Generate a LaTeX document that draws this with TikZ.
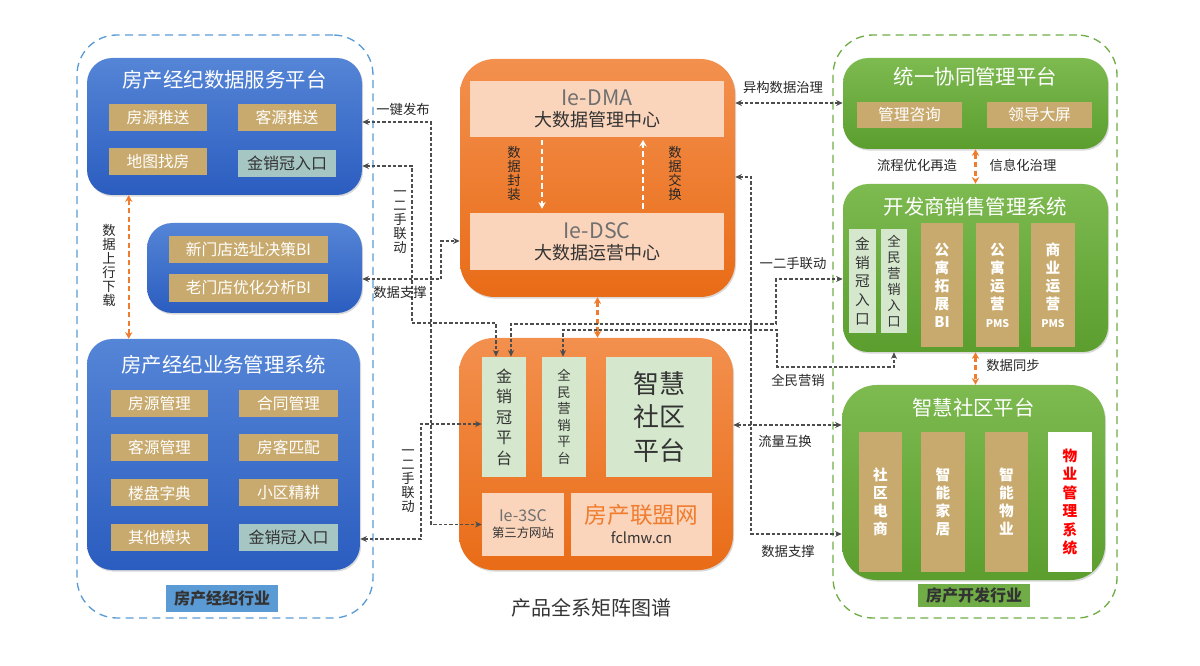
\documentclass[tikz,border=0pt]{standalone}
\usepackage{fontspec}
\setmainfont{Noto Sans CJK SC}
\usetikzlibrary{arrows.meta,shadows}

\definecolor{bluetop}{HTML}{5585D6}
\definecolor{bluebot}{HTML}{2B5DC0}
\definecolor{orangetop}{HTML}{F3904E}
\definecolor{orangebot}{HTML}{E96C17}
\definecolor{greentop}{HTML}{7DBA50}
\definecolor{greenbot}{HTML}{5B9E2E}
\definecolor{tanbox}{HTML}{C9AA6E}
\definecolor{tealbox}{HTML}{A6C6C4}
\definecolor{mintbox}{HTML}{D5E8CD}
\definecolor{peachbox}{HTML}{FAD4BB}
\definecolor{bluegrp}{HTML}{5B9BD5}
\definecolor{greengrp}{HTML}{70AD47}
\definecolor{orangeln}{HTML}{F07C2E}
\definecolor{linegray}{HTML}{4D4D4D}
\definecolor{textgray}{HTML}{333333}
\definecolor{iegray}{HTML}{707070}

\begin{document}
\begin{tikzpicture}[x=0.75pt,y=-0.75pt,
  sz/.style 2 args={minimum width=#1*0.75pt,minimum height=#2*0.75pt},
  grp/.style={rectangle,draw,line width=1pt,dash pattern=on 6pt off 4pt,
              rounded corners=30pt,inner sep=0pt},
  panel/.style={rectangle,rounded corners=19pt,inner sep=0pt,
                drop shadow={opacity=0.3,shadow xshift=0.8pt,shadow yshift=-1.2pt}},
  bluepanel/.style={panel,top color=bluetop,bottom color=bluebot},
  orangepanel/.style={panel,rounded corners=26pt,top color=orangetop,bottom color=orangebot},
  greenpanel/.style={panel,top color=greentop,bottom color=greenbot},
  ttl/.style={text=white,font=\fontsize{15.3}{18}\selectfont},
  item/.style={rectangle,fill=tanbox,inner sep=0pt,text=white,font=\fontsize{11.8}{14}\selectfont},
  entry/.style={item,fill=tealbox,text=textgray,font=\fontsize{12}{14}\selectfont},
  inner/.style={rectangle,fill=peachbox,inner sep=0pt,align=center,text=textgray},
  mint/.style={rectangle,fill=mintbox,inner sep=0pt,align=center,text=textgray},
  col/.style={item,align=center,font=\bfseries\fontsize{11}{13.5}\selectfont},
  tag/.style={rectangle,inner sep=0pt,text=textgray,font=\bfseries\fontsize{12}{14}\selectfont},
  lbl/.style={text=black!85,font=\fontsize{10}{11}\selectfont},
  vlbl/.style={lbl,align=center,font=\fontsize{10}{10.5}\selectfont},
  conn/.style={draw=linegray,line width=0.8pt,dash pattern=on 2.5pt off 1.5pt,
               <->,>={Stealth[length=5pt,width=4.5pt]}},
  odash/.style={draw=orangeln,line width=1.6pt,dash pattern=on 4pt off 2.5pt,
                <->,>={Stealth[length=5pt,width=5.5pt]}},
  wdash/.style={draw=white,line width=1.6pt,dash pattern=on 4pt off 2.5pt,
                ->,>={Stealth[length=5pt,width=5.5pt]}}]

\useasboundingbox (0,0) rectangle (1200,666);

\node[grp,draw=bluegrp,sz={296}{583}] (lgrp) at (225,326.5) {};
\node[grp,draw=greengrp,sz={284}{583}] (rgrp) at (975,326.5) {};

\node[bluepanel,sz={275}{137}] (ldata) at (224.5,126.5) {};
\node[ttl] (ldatat) at (224.5,80) {房产经纪数据服务平台};
\node[item,sz={98}{27}] (fytj) at (158,117.5) {房源推送};
\node[item,sz={98}{27}] (kytj) at (287,117.5) {客源推送};
\node[item,sz={98}{27}] (dtzf) at (158,162) {地图找房};
\node[entry,sz={98}{27}] (jxgrk1) at (287,163.5) {金销冠入口};

\node[bluepanel,sz={215}{90}] (bi) at (254.5,268) {};
\node[item,sz={159}{27}] (xmd) at (248.5,249.5) {新门店选址决策BI};
\node[item,sz={159}{28}] (lmd) at (248.5,288) {老门店优化分析BI};

\node[bluepanel,sz={273}{231}] (lbiz) at (223.5,454.5) {};
\node[ttl] (lbizt) at (223.5,365) {房产经纪业务管理系统};
\node[item,sz={97}{27}] (fygl) at (159.5,403.5) {房源管理};
\node[item,sz={97}{27}] (kygl) at (159.5,447.5) {客源管理};
\node[item,sz={97}{27}] (lpzd) at (159.5,493) {楼盘字典};
\node[item,sz={97}{27}] (qtmk) at (159.5,537.5) {其他模块};
\node[item,sz={99}{27}] (htgl) at (288.5,403.5) {合同管理};
\node[item,sz={99}{27}] (fkpp) at (288.5,447.5) {房客匹配};
\node[item,sz={99}{27}] (xqjg) at (288.5,493) {小区精耕};
\node[entry,sz={99}{27}] (jxgrk2) at (288.5,537.5) {金销冠入口};

\node[tag,fill=bluegrp,sz={112}{27}] (lind) at (222,598.5) {房产经纪行业};
\draw[odash] ([xshift=31.5pt]ldata.south west) -- ([xshift=31.5pt]lbiz.north west);
\node[vlbl] (sxxz) at (109,265) {数\\据\\上\\行\\下\\载};

\node[orangepanel,sz={275}{238}] (ctop) at (597.5,178) {};
\node[inner,sz={254}{56},font=\fontsize{13.5}{16}\selectfont] (dma) at (597,109)
  {{\color{iegray}\fontsize{16}{17}\selectfont Ie-DMA}\\大数据管理中心};
\node[inner,sz={254}{57},font=\fontsize{13.5}{16}\selectfont] (dsc) at (597,241.5)
  {{\color{iegray}\fontsize{16}{17}\selectfont Ie-DSC}\\大数据运营中心};
\draw[wdash,shorten <=2pt,shorten >=3pt] ([xshift=-41.25pt]dma.south) -- ([xshift=-41.25pt]dsc.north);
\draw[wdash,shorten <=3pt,shorten >=2pt] ([xshift=34.5pt]dsc.north) -- ([xshift=34.5pt]dma.south);
\node[vlbl] (sjfz) at (514,173) {数\\据\\封\\装};
\node[vlbl] (sjjh) at (675,173) {数\\据\\交\\换};

\node[orangepanel,sz={274}{232}] (cbot) at (596,454) {};
\node[mint,sz={44}{120},font=\fontsize{12}{15.4}\selectfont] (jxg) at (504,417) {金\\销\\冠\\平\\台};
\node[mint,sz={44}{120},font=\fontsize{10}{12.4}\selectfont] (qmyx) at (564,417) {全\\民\\营\\销\\平\\台};
\node[mint,sz={106}{120},font=\fontsize{19.5}{25}\selectfont] (zhsq) at (659,417) {智慧\\社区\\平台};
\node[inner,sz={82}{63},font=\fontsize{9.3}{12}\selectfont] (sc3) at (523,524.5)
  {{\color{iegray}\fontsize{12}{13}\selectfont Ie-3SC}\\第三方网站};
\node[inner,sz={141}{63},font=\fontsize{11}{15}\selectfont] (fclm) at (641.5,524.5)
  {{\color{orangeln}\fontsize{17}{19}\selectfont 房产联盟网}\\fclmw.cn};
\draw[odash] (ctop.south) -- (ctop.south |- cbot.north);
\node[text=textgray,font=\fontsize{15}{18}\selectfont] (cap) at (591,608) {产品全系矩阵图谱};

\node[greenpanel,sz={265}{91}] (rtop) at (975.5,103.5) {};
\node[ttl] (rtopt) at (975.5,77) {统一协同管理平台};
\node[item,sz={105}{26}] (glzx) at (909.5,115) {管理咨询};
\node[item,sz={105}{26}] (ldpm) at (1039.5,115) {领导大屏};

\node[greenpanel,sz={265}{168}] (rsale) at (975.5,268) {};
\node[ttl] (rsalet) at (975.5,207) {开发商销售管理系统};
\node[mint,sz={27}{104},font=\fontsize{11}{14}\selectfont] (rjxg) at (862.5,281) {金\\销\\冠\\入\\口};
\node[mint,sz={26}{104},font=\fontsize{10}{12}\selectfont] (rqmyx) at (894,281) {全\\民\\营\\销\\入\\口};
\node[col,sz={42}{124}] (gytz) at (942,285) {公\\寓\\拓\\展\\BI};
\node[col,sz={43}{124}] (gyyy) at (997.5,285) {公\\寓\\运\\营\\{\fontsize{8}{9}\selectfont PMS}};
\node[col,sz={44}{124}] (syyy) at (1053,285) {商\\业\\运\\营\\{\fontsize{8}{9}\selectfont PMS}};
\draw[odash] (rtop.south) -- (rsale.north);
\node[lbl] (lcyh) at (917,165) {流程优化再造};
\node[lbl] (xxhzl) at (1023,165) {信息化治理};

\node[greenpanel,rounded corners=26pt,sz={263}{195}] (rsq) at (973.5,482.5) {};
\node[ttl] (rsqt) at (973.5,408) {智慧社区平台};
\node[col,sz={43}{140}] (sqds) at (880.5,502) {社\\区\\电\\商};
\node[col,sz={44}{140}] (znjj) at (943,502) {智\\能\\家\\居};
\node[col,sz={43}{140}] (znwy) at (1006.5,502) {智\\能\\物\\业};
\node[col,fill=white,text=red,sz={44}{140},font=\bfseries\fontsize{11}{13.9}\selectfont] (wygl) at (1070,502)
  {物\\业\\管\\理\\系\\统};
\draw[odash] (rsale.south) -- (rsale.south |- rsq.north);
\node[lbl] (sjtb) at (1013,365) {数据同步};
\node[tag,fill=greengrp,sz={112}{23}] (rind) at (974,595.5) {房产开发行业};

\draw[conn] (ldata.east|-0,122) -- (431,122) |- (sc3.west);
\draw[conn] (ldata.east|-0,166) -- (412,166) |- (496,323) -- (496,0|-jxg.north);
\draw[conn] (bi.east|-0,279) -- (441,279) |- (ctop.west|-0,241);
\draw[conn] (lbiz.east|-0,539) -- (421,539) |- (jxg.west|-0,424);
\draw[conn] (ctop.east|-0,103) -- (rtop.west|-0,103);
\draw[conn] (511,0|-jxg.north) -- (511,324) -- (776,324) |- (rsale.west|-0,279);
\draw[conn] (563,0|-qmyx.north) -- (563,330) -| (777,367) -| (rqmyx.south|-rsale.south);
\draw[conn] (ctop.east|-0,177) -- (751,177) |- (rsq.west|-0,534);
\draw[conn] (cbot.east|-0,425) -- (rsq.west|-0,425);

\node[lbl] (yjfb) at (403,109) {一键发布};
\node[vlbl] (ess1) at (400,222) {一\\二\\手\\联\\动};
\node[lbl] (sjzc1) at (400,292) {数据支撑};
\node[vlbl] (ess2) at (408,481) {一\\二\\手\\联\\动};
\node[lbl] (ygsj) at (783,87) {异构数据治理};
\node[lbl] (ess3) at (793,263) {一二手联动};
\node[lbl] (qmyxl) at (798,380) {全民营销};
\node[lbl] (sjzc2) at (788,551) {数据支撑};
\node[lbl] (llhh) at (785,441) {流量互换};
\end{tikzpicture}
\end{document}
